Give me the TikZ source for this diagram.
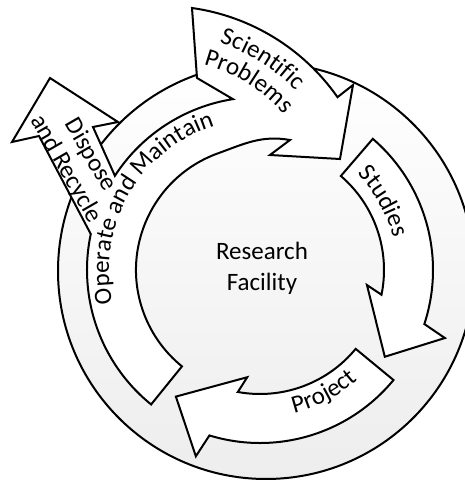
\documentclass[tikz,border=0pt]{standalone}
\usepackage{fontspec}
\setmainfont{Carlito}
\usetikzlibrary{decorations.text}
\newcommand\labelfont{\fontsize{25}{28}\selectfont}

\begin{document}
\begin{tikzpicture}[x=1pt,y=1pt,
  block/.style={fill=white,draw=black,line width=2pt},
  curvetext/.style={decorate,decoration={text along path,text align=center,text={#1}}}]
\useasboundingbox (-260,-210) rectangle (204,270);
% outer disc
\shadedraw[top color=white,bottom color=black!7,line width=2pt] (6,-1) circle[radius=208pt];
% studies
\draw[block] (49.3:124pt) -- (49.3:173pt) arc[start angle=49.3,end angle=-18.2,radius=173pt]
  -- (-20.2:197pt) -- (-34.8:152pt) -- (-8:108pt) -- (-11.5:124pt)
  arc[start angle=-11.5,end angle=49.3,radius=124pt] -- cycle;
% project
\draw[block] (-39.5:124pt) -- (-39.5:173pt) arc[start angle=-39.5,end angle=-107,radius=173pt]
  -- (-109:197pt) -- (-123.6:152pt) -- (-96.8:108pt) -- (-100.3:124pt)
  arc[start angle=-100.3,end angle=-39.5,radius=124pt] -- cycle;
% operate and maintain, with dispose branch and scientific problems head
\draw[block] (231:124pt) -- (231:173pt) arc[start angle=231,end angle=168,radius=173pt]
  -- (-221,134) -- (-248,128) -- (-210,192) -- (-142,148) -- (-167,143)
  -- (147:173pt) arc[start angle=147,end angle=99,radius=173pt]
  -- (-63,192) -- (-68,262) arc[start angle=82,end angle=35,radius=214pt]
  -- (93,185) -- (80,111) -- (10,115) -- (30,130) to[out=170,in=20] (110:124pt)
  arc[start angle=110,end angle=231,radius=124pt] -- cycle;
% labels
\path[curvetext={|\labelfont|Studies}] (59:137pt) arc[start angle=59,end angle=-1,radius=137pt];
\path[curvetext={|\labelfont|Project}] (-97:147pt) arc[start angle=-97,end angle=-28,radius=147pt];
\path[curvetext={|\labelfont|Operate and Maintain}] (215:151pt) arc[start angle=215,end angle=85,radius=151pt];
\path[curvetext={|\labelfont|Scientific}] ([shift={(-98,50)}]90:186pt) arc[start angle=90,end angle=26,radius=186pt];
\path[curvetext={|\labelfont|Problems}] ([shift={(-98,50)}]92:161pt) arc[start angle=92,end angle=24,radius=161pt];
\node[rotate=-60,align=center,font=\labelfont] (dispose) at (-182,108) {Dispose\\and Recycle};
\node[align=center,font=\fontsize{25}{31}\selectfont] (facility) at (2,2) {Research\\Facility};
\end{tikzpicture}
\end{document}
